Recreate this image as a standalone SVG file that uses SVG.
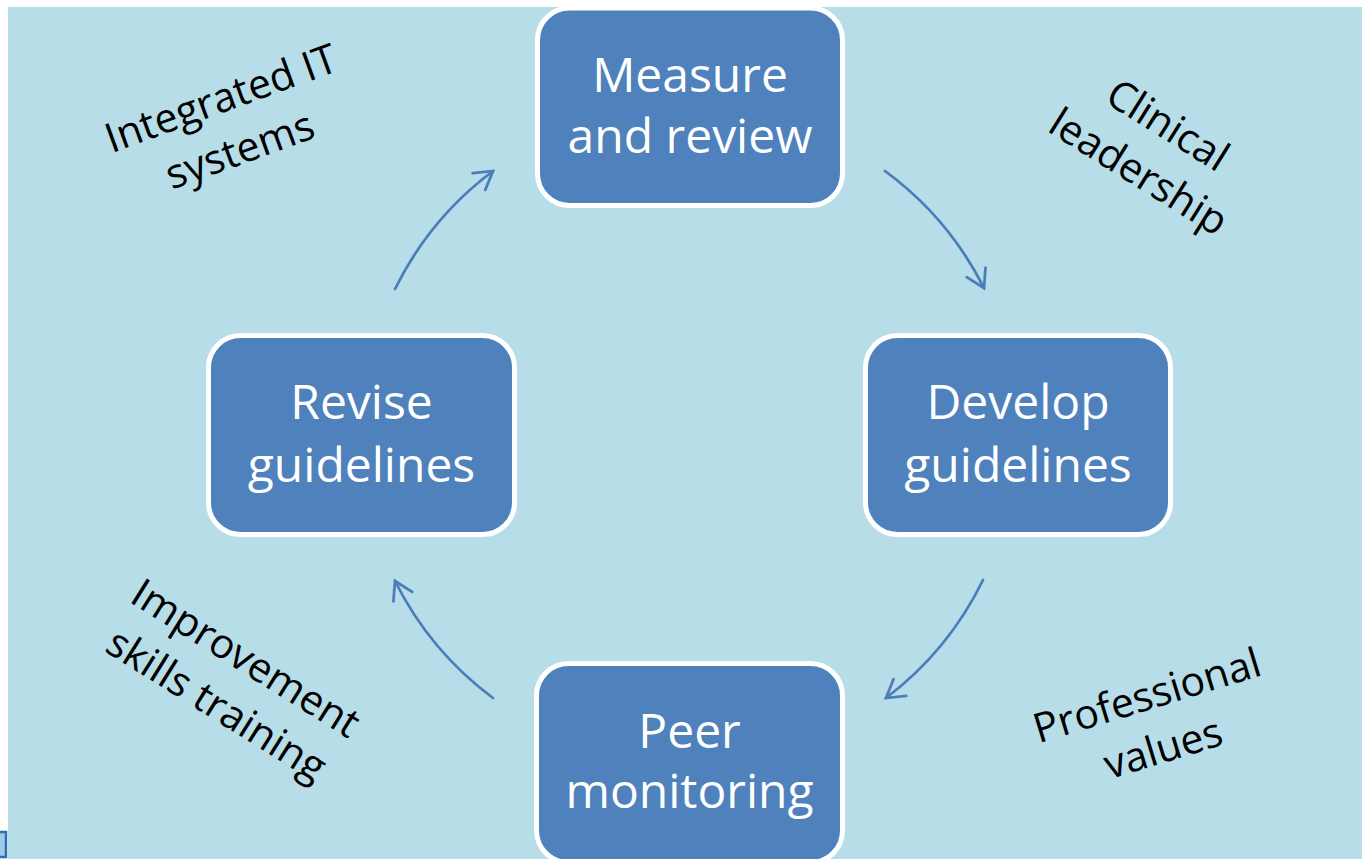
<svg xmlns="http://www.w3.org/2000/svg" width="1362" height="859" viewBox="0 0 1362 859">
  <style>
    .box { fill: #4f81bd; stroke: #ffffff; stroke-width: 5; }
    .boxtext { font-family: "Open Sans", "Liberation Sans", sans-serif; font-size: 48px; fill: #ffffff; text-anchor: middle; }
    .label { font-family: "Open Sans", "Liberation Sans", sans-serif; font-size: 41px; fill: #000000; text-anchor: middle; }
    .flow { fill: none; stroke: #4a7ebb; stroke-width: 2.75; stroke-linecap: round; marker-end: url(#openHead); }
  </style>
  <defs>
    <marker id="openHead" markerUnits="userSpaceOnUse" markerWidth="40" markerHeight="40" refX="0" refY="0" orient="auto" overflow="visible">
      <path d="M -17.5 -10.5 L 0 0 L -17.5 10.5" fill="none" stroke="#4a7ebb" stroke-width="2.75" stroke-linecap="round" stroke-linejoin="miter"/>
    </marker>
  </defs>

  <!-- page and slide background -->
  <rect x="0" y="0" width="1362" height="859" fill="#ffffff"/>
  <rect x="8" y="7" width="1354" height="852" fill="#b7dde8"/>

  <!-- clipped icon fragment at lower-left edge -->
  <rect x="-4" y="832" width="10" height="25" fill="#9fcbe8" stroke="#2a6fb0" stroke-width="2.5"/>

  <!-- cycle connectors: arcs on a circle around the centre -->
  <g id="connectors">
    <path class="flow" d="M 395 289 A 329 329 0 0 1 493 171"/>
    <path class="flow" d="M 885 171 A 329 329 0 0 1 984 288"/>
    <path class="flow" d="M 983 580 A 329 329 0 0 1 886 698"/>
    <path class="flow" d="M 493 698 A 329 329 0 0 1 395 581"/>
  </g>

  <g id="measure">
    <rect class="box" x="537.5" y="8" width="305" height="197.5" rx="32"/>
    <text class="boxtext" x="690" y="92">Measure</text>
    <text class="boxtext" x="690" y="153">and review</text>
  </g>

  <g id="develop">
    <rect class="box" x="865.5" y="335.5" width="305" height="199" rx="32"/>
    <text class="boxtext" x="1018" y="419">Develop</text>
    <text class="boxtext" x="1018" y="482">guidelines</text>
  </g>

  <g id="peer">
    <rect class="box" x="536.5" y="663.5" width="306" height="199" rx="32"/>
    <text class="boxtext" x="689.5" y="748">Peer</text>
    <text class="boxtext" x="689.5" y="808">monitoring</text>
  </g>

  <g id="revise">
    <rect class="box" x="208.5" y="335.5" width="306" height="199" rx="32"/>
    <text class="boxtext" x="361.5" y="419">Revise</text>
    <text class="boxtext" x="361.5" y="482">guidelines</text>
  </g>

  <!-- enabler labels around the cycle -->
  <g id="label-it" transform="translate(235 137) rotate(-20)">
    <text class="label" x="0" y="-27">Integrated IT</text>
    <text class="label" x="0" y="28">systems</text>
  </g>

  <g id="label-leadership" transform="translate(1146 160) rotate(32)">
    <text class="label" x="0" y="-27">Clinical</text>
    <text class="label" x="0" y="28">leadership</text>
  </g>

  <g id="label-training" transform="translate(224 693) rotate(32)">
    <text class="label" x="0" y="-27">Improvement</text>
    <text class="label" x="0" y="28">skills training</text>
  </g>

  <g id="label-values" transform="translate(1159 735) rotate(-17)">
    <text class="label" x="0" y="-27">Professional</text>
    <text class="label" x="0" y="28">values</text>
  </g>
</svg>
